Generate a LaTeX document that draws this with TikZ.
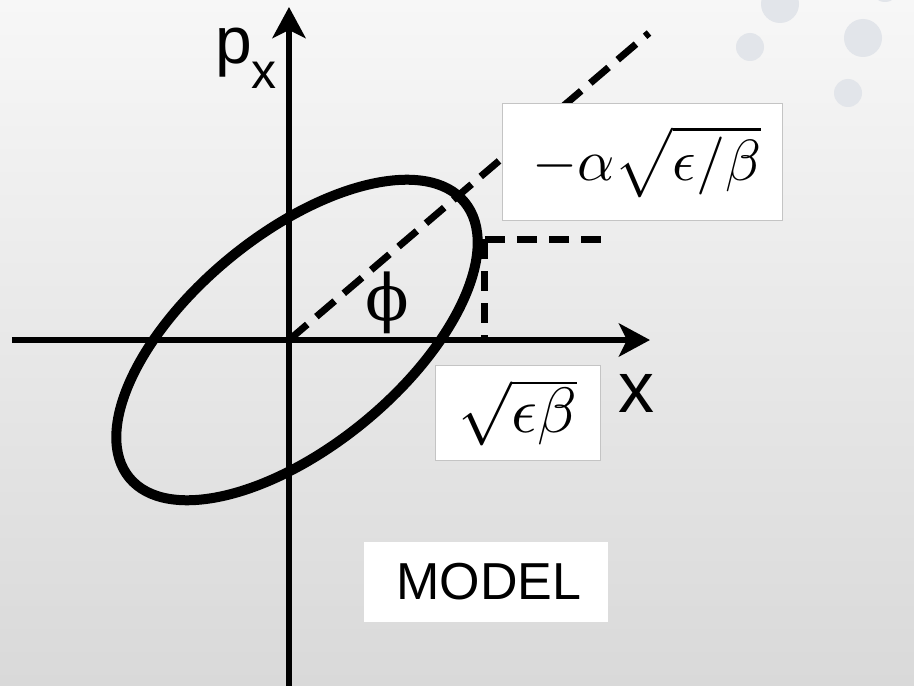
\documentclass[tikz,border=0pt]{standalone}
\usepackage{fontspec}
\usepackage{graphicx}
\setmainfont{Liberation Sans}
\newfontfamily\phifont{DejaVu Serif}
\usetikzlibrary{arrows.meta}
\definecolor{bgtop}{HTML}{F7F7F7}
\definecolor{bgbot}{HTML}{D9D9D9}
\definecolor{bubble}{HTML}{E2E5EA}
\definecolor{boxline}{HTML}{C4C4C4}

\begin{document}
\begin{tikzpicture}[
    x=1pt, y=1pt,
    axis/.style={line width=6pt, -{Stealth[length=31pt, width=33pt, inset=8pt]}},
    guide/.style={line width=7pt, dash pattern=on 24pt off 12pt},
    proj/.style={line width=7pt, dash pattern=on 20pt off 12pt},
    mathbox/.style={rectangle, draw=boxline, line width=1pt, fill=white, inner sep=0pt},
    bigtxt/.style={inner sep=0pt, font=\fontsize{#1}{#1}\selectfont}
]
% background and bubbles
\shade[top color=bgtop, bottom color=bgbot] (-289,-346) rectangle (625,340);
\useasboundingbox (-289,-346) rectangle (625,340);
\foreach \cx/\cy/\rad in {491/336/19, 461/293/14, 574/302/19, 559/247/14, 596/352/14}
  \fill[bubble] (\cx,\cy) circle (\rad);

\coordinate (O) at (0,0);
\coordinate (xtail) at (-277,0);
\coordinate (xtip) at (361,0);
\coordinate (ytail) at (0,-346);
\coordinate (ytip) at (0,333);
\coordinate (diag) at (360,307);
\coordinate (corner) at (196,101);
\coordinate (hend) at (319,101);
\coordinate (vfoot) at (196,0);

\draw[guide] (O) -- (diag);
\draw[proj] (corner) -- (hend);
\draw[proj] (corner) -- (vfoot);
\draw[line width=10pt] (8,0) circle[x radius=217, y radius=106, rotate=39.4];

\draw[axis] (xtail) -- (xtip);
\draw[axis] (ytail) -- (ytip);

\node[bigtxt=66, anchor=base west] (plabel) at (-74,276) {p\raisebox{-25pt}{\fontsize{50}{50}\selectfont x}};
\node[bigtxt=72, anchor=base west] (xlabel) at (329,-72) {x};
\node[bigtxt=64] (philabel) at (98,37) {\phifont ϕ};

\node[mathbox, minimum width=279, minimum height=116] (tiltbox) at (353.5,178) {\hspace*{8pt}\scalebox{5.8}{$-\alpha\sqrt{\epsilon/\beta}$}};
\node[mathbox, minimum width=164, minimum height=95] (widthbox) at (229,-72.5) {\scalebox{6.4}{$\sqrt{\epsilon\beta}$}};
\node[fill=white, minimum width=244, minimum height=80, bigtxt=52] (modelbox) at (197,-242) {\hspace*{6pt}MODEL};
\end{tikzpicture}
\end{document}
